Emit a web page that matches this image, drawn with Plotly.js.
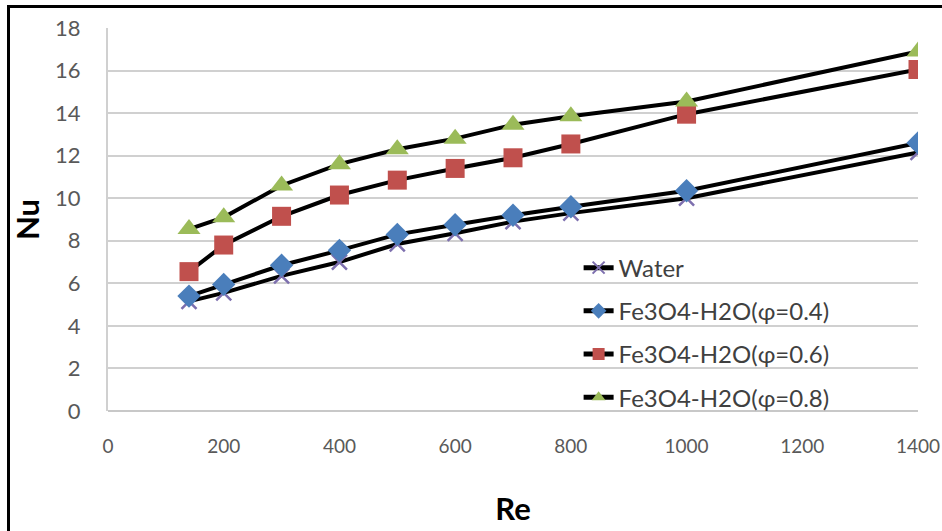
<!DOCTYPE html>
<html>
<head>
<meta charset="utf-8">
<script src="https://cdn.plot.ly/plotly-3.0.1.min.js"></script>
<style>
  html, body { margin: 0; padding: 0; background: #fff; }
  #wrap { position: relative; width: 942px; height: 531px; overflow: hidden; }
  #chart { width: 942px; height: 531px; }
  #frame { position: absolute; left: 7px; top: 5px; width: 960px; height: 560px;
           border-left: 3px solid #000; border-top: 3px solid #000; pointer-events: none; }
</style>
</head>
<body>
<div id="wrap"><div id="chart"></div><div id="frame"></div></div>
<script>
const re = [140, 200, 300, 400, 500, 600, 700, 800, 1000, 1400];
const seriesNames = ['Water', 'Fe3O4-H2O(φ=0.4)', 'Fe3O4-H2O(φ=0.6)', 'Fe3O4-H2O(φ=0.8)'];
const nuWater = [5.15, 5.55, 6.35, 7.0, 7.85, 8.35, 8.9, 9.3, 10.0, 12.15];
const nuPhi04 = [5.4, 5.95, 6.85, 7.55, 8.3, 8.75, 9.2, 9.6, 10.35, 12.6];
const nuPhi06 = [6.55, 7.8, 9.15, 10.15, 10.85, 11.4, 11.9, 12.55, 13.95, 16.05];
const nuPhi08 = [8.55, 9.1, 10.6, 11.6, 12.3, 12.8, 13.45, 13.85, 14.55, 16.9];
const yTicks = [0, 2, 4, 6, 8, 10, 12, 14, 16, 18];
const xTicks = [0, 200, 400, 600, 800, 1000, 1200, 1400];

const lineStyle = {color: '#000000', width: 4};
const traces = [
  {x: re, y: nuWater, name: seriesNames[0], legendgroup: 'a', mode: 'lines+markers', line: lineStyle,
   marker: {symbol: 'x-thin', size: 15, line: {color: '#7d6fae', width: 2.5}, color: '#7d6fae'}},
  {x: re, y: nuPhi04, name: seriesNames[1], legendgroup: 'b', mode: 'lines+markers', line: lineStyle,
   marker: {symbol: 'diamond', size: 18, color: '#4a7ebb'}},
  {x: re, y: nuPhi06, name: seriesNames[2], legendgroup: 'c', mode: 'lines+markers', line: lineStyle,
   marker: {symbol: 'square', size: 19, color: '#c0504d'}},
  {x: re, y: nuPhi08, name: seriesNames[3], legendgroup: 'd', mode: 'lines+markers', line: lineStyle,
   marker: {symbol: 'triangle-up', size: 20, color: '#9bbb59'}}
];

const fam = 'Lato, "Liberation Sans", sans-serif';
const layout = {
  width: 942, height: 531,
  margin: {l: 108, r: 24, t: 28, b: 120},
  paper_bgcolor: '#ffffff', plot_bgcolor: '#ffffff',
  showlegend: true,
  legend: {x: 0.581, y: 0.432, xanchor: 'left', yanchor: 'top', bgcolor: 'rgba(0,0,0,0)',
           font: {family: fam, size: 24, color: '#404040'},
           tracegroupgap: 9, itemwidth: 30, itemsizing: 'constant'},
  xaxis: {range: [0, 1400], tickvals: xTicks, ticktext: xTicks.map(String), showgrid: false,
          zeroline: false, showline: false, ticks: '', tickfont: {family: fam, size: 19, color: '#595959'},
          ticklabelstandoff: 22, automargin: false,
          title: {text: '<b>Re</b>', font: {family: fam, size: 31, color: '#000'}, standoff: 42}},
  yaxis: {range: [0, 18], tickvals: yTicks, ticktext: yTicks.map(String), showgrid: true,
          gridcolor: '#d0d0d0', gridwidth: 2, zeroline: true, zerolinecolor: '#c8c8c8', zerolinewidth: 2,
          showline: true, linecolor: '#d0d0d0', linewidth: 2, ticks: '',
          tickfont: {family: fam, size: 22, color: '#595959'}, ticklabelstandoff: 21,
          title: {text: '<b>Nu</b>', font: {family: fam, size: 31, color: '#000'}, standoff: 6}}
};
Plotly.newPlot('chart', traces, layout, {displayModeBar: false, staticPlot: true});
</script>
</body>
</html>
